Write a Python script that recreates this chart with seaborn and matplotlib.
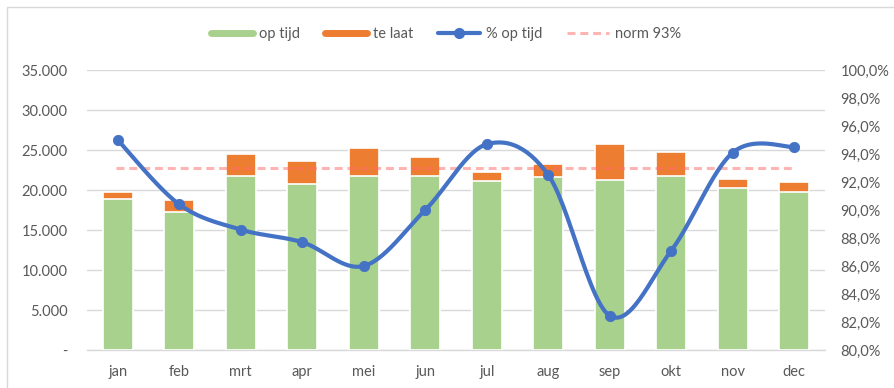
import numpy as np
import pandas as pd
import matplotlib
matplotlib.use("Agg")
import matplotlib.pyplot as plt
from matplotlib.lines import Line2D
from matplotlib.patches import Rectangle
from matplotlib.ticker import FuncFormatter, MultipleLocator
import seaborn as sns

months = ["jan", "feb", "mrt", "apr", "mei", "jun", "jul", "aug", "sep", "okt", "nov", "dec"]
op_tijd = [18850, 17200, 21800, 20800, 21800, 21800, 21100, 21600, 21250, 21700, 20200, 19800]
te_laat = [900, 1600, 2650, 2800, 3500, 2300, 1150, 1650, 4450, 3100, 1200, 1150]
pct_op_tijd = [95.0, 90.4, 88.6, 87.7, 86.0, 90.0, 94.7, 92.5, 82.45, 87.1, 94.1, 94.5]
norm = 93.0

sns.set_theme(style="white")
plt.rcParams["font.family"] = ["Lato", "DejaVu Sans"]
TXT = "#595959"
GRID = "#D9D9D9"
GREEN = "#A9D18E"
ORANGE = "#ED7D31"
BLUE = "#4472C4"
PINK = "#FF6A6A"

df = pd.DataFrame({"maand": months, "op tijd": op_tijd,
                   "totaal": np.array(op_tijd) + np.array(te_laat)})

fig = plt.figure(figsize=(8.95, 3.88), dpi=100)
ax = fig.add_axes([87 / 895, 38 / 388, 738 / 895, 280 / 388])

sns.barplot(data=df, x="maand", y="totaal", color=ORANGE, saturation=1, width=0.49,
            edgecolor="white", linewidth=1.2, ax=ax, zorder=2)
sns.barplot(data=df, x="maand", y="op tijd", color=GREEN, saturation=1, width=0.49,
            edgecolor="white", linewidth=1.2, ax=ax, zorder=3)

ax.set_xlim(-0.5, len(months) - 0.5)
ax.set_ylim(0, 35000)
ax.yaxis.set_major_locator(MultipleLocator(5000))
ax.yaxis.set_major_formatter(FuncFormatter(
    lambda v, p: "-" if v == 0 else f"{int(v):,}".replace(",", ".")))
ax.grid(axis="y", color=GRID, linewidth=1, zorder=0)
ax.set_axisbelow(True)
ax.set_xlabel("")
ax.set_ylabel("")
for s in ["top", "left", "right"]:
    ax.spines[s].set_visible(False)
ax.spines["bottom"].set_color(GRID)
ax.spines["bottom"].set_linewidth(1)
ax.tick_params(axis="y", length=0, pad=14, labelsize=10.5, labelcolor=TXT)
ax.tick_params(axis="x", length=0, pad=11, labelsize=10.5, labelcolor=TXT)

ax2 = ax.twinx()
ax2.set_ylim(80, 100)
ax2.yaxis.set_major_locator(MultipleLocator(2))
ax2.yaxis.set_major_formatter(FuncFormatter(lambda v, p: f"{v:.1f}%".replace(".", ",")))
for s in ax2.spines.values():
    s.set_visible(False)
ax2.tick_params(axis="y", length=0, pad=11, labelsize=10.5, labelcolor=TXT)
ax2.grid(False)

x = np.arange(len(months), dtype=float)
ax2.plot([x[0] - 0.03, x[-1]], [norm, norm], color=PINK, alpha=0.5, lw=2.2,
         dashes=(2.6, 1.6), dash_capstyle="butt", zorder=4)

# Excel-style smoothed line (Catmull-Rom through data points)
y = np.array(pct_op_tijd)
xs, ys = [], []
P = np.column_stack([x, y])
n = len(P)
for i in range(n - 1):
    p0 = P[i - 1] if i > 0 else P[i]
    p1, p2 = P[i], P[i + 1]
    p3 = P[i + 2] if i + 2 < n else P[i + 1]
    c1 = p1 + (p2 - p0) / 6
    c2 = p2 - (p3 - p1) / 6
    t = np.linspace(0, 1, 30)[:, None]
    seg = (1 - t) ** 3 * p1 + 3 * (1 - t) ** 2 * t * c1 + 3 * (1 - t) * t ** 2 * c2 + t ** 3 * p2
    xs.extend(seg[:, 0]); ys.extend(seg[:, 1])
ax2.plot(xs, ys, color=BLUE, lw=3, zorder=5, solid_capstyle="round")
sns.scatterplot(x=x, y=y, color=BLUE, s=55, edgecolor=BLUE, ax=ax2, zorder=6)

handles = [Line2D([0], [0], color=GREEN, lw=5),
           Line2D([0], [0], color=ORANGE, lw=5),
           Line2D([0], [0], color=BLUE, lw=3, marker="o", markersize=7),
           Line2D([0], [0], color=PINK, alpha=0.5, lw=2.2, dashes=(2.6, 1.6))]
labels = ["op tijd", "te laat", "% op tijd", "norm 93%"]
fig.legend(handles, labels, loc="center", bbox_to_anchor=(446 / 895, 1 - 34 / 388),
           ncol=4, frameon=False, fontsize=10.5, labelcolor=TXT, handlelength=2.9,
           handletextpad=0.4, columnspacing=1.7)

fig.patches.append(Rectangle((7 / 895, -0.05), 1.0, 1 - 7 / 388 + 0.05,
                             transform=fig.transFigure, fill=False,
                             edgecolor=GRID, linewidth=1))

fig.savefig("out.png", dpi=100)
